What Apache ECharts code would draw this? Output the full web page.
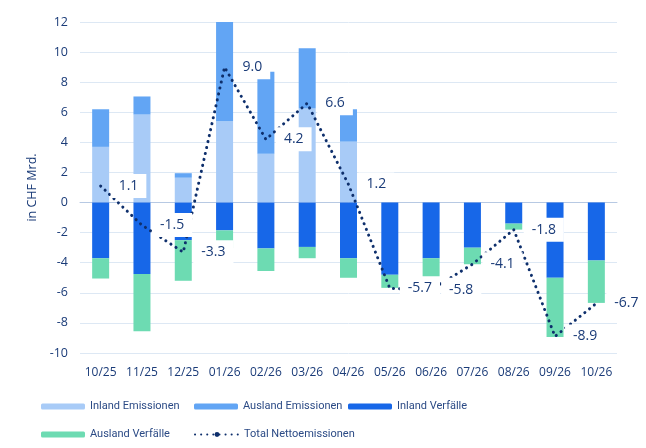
<!DOCTYPE html>
<html>
<head>
<meta charset="utf-8">
<script src="https://cdn.jsdelivr.net/npm/echarts@6/dist/echarts.min.js"></script>
<style>
  html, body { margin: 0; padding: 0; background: #fff; }
  #chart { width: 646px; height: 448px; }
</style>
</head>
<body>
<div id="chart"></div>
<script>
// Monate
var months = ['10/25', '11/25', '12/25', '01/26', '02/26', '03/26', '04/26', '05/26', '06/26', '07/26', '08/26', '09/26', '10/26'];
// Emissionen (positiv)
var inlandEmissionen = [3.7, 5.85, 1.65, 5.4, 3.25, 6.25, 4.05, 0, 0, 0, 0, 0, 0];
var auslandEmissionen = [2.5, 1.2, 0.3, 6.6, 5.45, 4.0, 2.15, 0, 0, 0, 0, 0, 0];
// Verfälle (negativ)
var inlandVerfaelle = [-3.7, -4.75, -2.5, -1.85, -3.05, -2.95, -3.7, -4.8, -3.7, -3.0, -1.4, -5.0, -3.85];
var auslandVerfaelle = [-1.35, -3.8, -2.7, -1.15, -1.5, -0.75, -1.3, -0.87, -2.1, -1.1, -0.4, -3.93, -2.82];
// Total Nettoemissionen
var totalNetto = [1.1, -1.5, -3.3, 9.0, 4.2, 6.6, 1.2, -5.7, -5.8, -4.1, -1.8, -8.9, -6.7];

var navy = '#1a3b78';
var fontAxis = '"Open Sans", "Noto Sans", sans-serif';
var fontLegend = 'Roboto, "Open Sans", sans-serif';

var myChart = echarts.init(document.getElementById('chart'));

function legendAt(name, left, top) {
    return {
        data: [name],
        left: left,
        top: top,
        itemWidth: 44,
        itemHeight: 6,
        itemGap: 5,
        selectedMode: false,
        textStyle: { color: '#2b4a85', fontSize: 11, fontFamily: fontLegend }
    };
}

function barSeries(name, data, color) {
    return {
        name: name,
        type: 'bar',
        stack: 'total',
        barWidth: 17,
        data: data,
        itemStyle: { color: color },
        z: 2
    };
}

var option = {
    animation: false,
    grid: { left: 80, right: 29, top: 22, bottom: 95 },
    legend: [
        legendAt('Inland Emissionen', 36, 396),
        legendAt('Ausland Emissionen', 189, 396),
        legendAt('Inland Verfälle', 343, 396),
        legendAt('Ausland Verfälle', 36, 424),
        legendAt('Total Nettoemissionen', 189, 424)
    ],
    xAxis: {
        type: 'category',
        data: months,
        axisLine: { onZero: true, lineStyle: { color: '#b7c9e3', width: 1 } },
        axisTick: { show: false },
        axisLabel: { color: navy, fontSize: 12, fontFamily: fontAxis, margin: 14, interval: 0 }
    },
    yAxis: {
        type: 'value',
        min: -10,
        max: 12,
        interval: 2,
        name: 'in CHF Mrd.',
        nameLocation: 'middle',
        nameGap: 38,
        nameTextStyle: { color: navy, fontSize: 12.5, fontFamily: fontAxis },
        axisLine: { show: false },
        axisTick: { show: false },
        axisLabel: { color: navy, fontSize: 12.5, fontFamily: fontAxis, margin: 12 },
        splitLine: { lineStyle: { color: '#dde8f4', width: 1 } }
    },
    series: [
        barSeries('Inland Emissionen', inlandEmissionen, '#a8cbf7'),
        barSeries('Ausland Emissionen', auslandEmissionen, '#62a5f4'),
        barSeries('Inland Verfälle', inlandVerfaelle, '#1767e8'),
        barSeries('Ausland Verfälle', auslandVerfaelle, '#6ddbb2'),
        {
            name: 'Total Nettoemissionen',
            type: 'line',
            data: totalNetto,
            symbol: 'none',
            z: 3,
            lineStyle: { color: '#0e2f6c', width: 3, type: [0.1, 6], cap: 'round' },
            itemStyle: { color: '#0e2f6c' }
        },
        {
            // nur Beschriftungen, über Balken und Linie
            name: 'labels',
            type: 'scatter',
            data: totalNetto,
            symbolSize: 0,
            z: 10,
            silent: true,
            itemStyle: { opacity: 1 },
            label: {
                show: true,
                position: 'right',
                distance: 10,
                formatter: function (p) { return p.value.toFixed(1); },
                color: navy,
                opacity: 1,
                fontSize: 14,
                fontFamily: fontAxis,
                backgroundColor: '#ffffff',
                padding: [5, 8]
            }
        }
    ]
};

myChart.setOption(option);
</script>
</body>
</html>
